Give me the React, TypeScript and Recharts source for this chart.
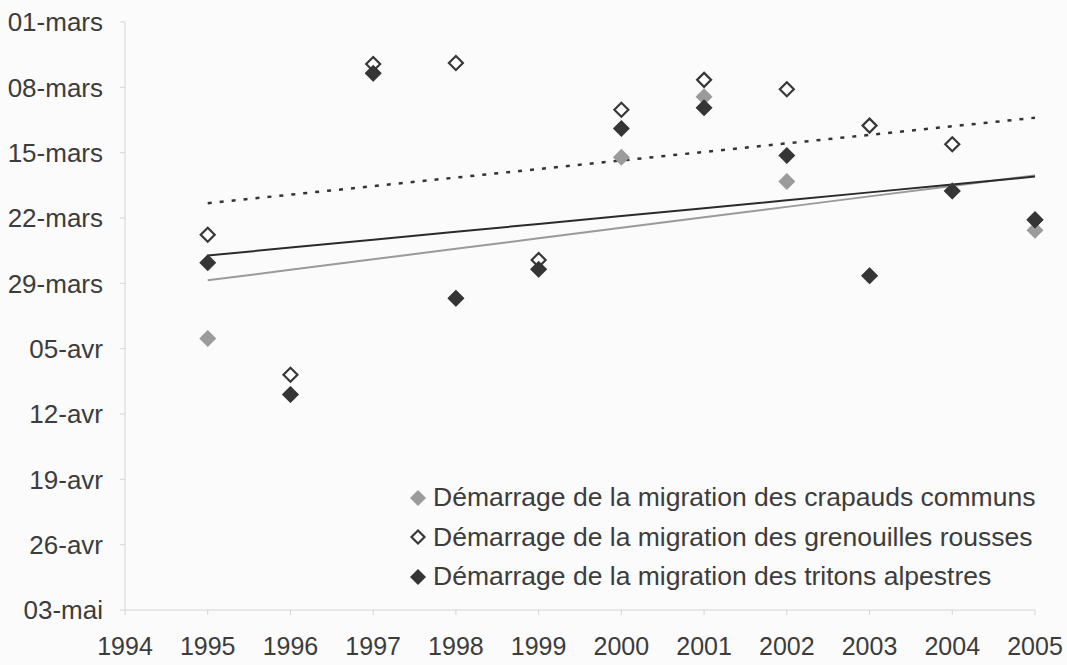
import React from "react";
import { ComposedChart, Scatter, Line, XAxis, YAxis, Legend } from "recharts";

// jours comptés depuis le 01-mars
const years = [1995, 1996, 1997, 1998, 1999, 2000, 2001, 2002, 2003, 2004, 2005];
const crapauds = [33.9, 39.9, 5.5, 29.6, 26.5, 14.5, 8.0, 17.1, 27.2, 18.1, 22.3];
const grenouilles = [22.8, 37.8, 4.5, 4.4, 25.5, 9.4, 6.2, 7.2, 11.1, 13.1, 21.2];
const tritons = [25.8, 39.9, 5.5, 29.6, 26.5, 11.4, 9.2, 14.3, 27.2, 18.1, 21.2];

const xTicks = [1994, 1995, 1996, 1997, 1998, 1999, 2000, 2001, 2002, 2003, 2004, 2005];
const yTicks = [0, 7, 14, 21, 28, 35, 42, 49, 56, 63];
const yTickLabels = ["01-mars", "08-mars", "15-mars", "22-mars", "29-mars", "05-avr", "12-avr", "19-avr", "26-avr", "03-mai"];

const seriesNames = [
  "Démarrage de la migration des crapauds communs",
  "Démarrage de la migration des grenouilles rousses",
  "Démarrage de la migration des tritons alpestres",
];

// droite de tendance (moindres carrés), comme dans Excel
function trend(ys: number[]) {
  const n = years.length;
  const mx = years.reduce((a, b) => a + b, 0) / n;
  const my = ys.reduce((a, b) => a + b, 0) / n;
  let sxy = 0;
  let sxx = 0;
  years.forEach((x, i) => {
    sxy += (x - mx) * (ys[i] - my);
    sxx += (x - mx) * (x - mx);
  });
  const b = sxy / sxx;
  const a = my - b * mx;
  return years.map((x) => a + b * x);
}

const tCrap = trend(crapauds);
const tGren = trend(grenouilles);
const tTrit = trend(tritons);

const data = years.map((year, i) => ({
  year,
  crapauds: crapauds[i],
  grenouilles: grenouilles[i],
  tritons: tritons[i],
  tCrap: tCrap[i],
  tGren: tGren[i],
  tTrit: tTrit[i],
}));

const diamond = (fill: string, stroke: string, r: number, sw: number) => (props: any) => {
  const { cx, cy } = props;
  if (cx == null || cy == null) return <g />;
  return (
    <polygon
      points={`${cx},${cy - r} ${cx + r},${cy} ${cx},${cy + r} ${cx - r},${cy}`}
      fill={fill}
      stroke={stroke}
      strokeWidth={sw}
    />
  );
};

const markers = [
  { fill: "#9b9b9b", stroke: "none", r: 8.5, sw: 0 },
  { fill: "#ffffff", stroke: "#383838", r: 7, sw: 2.2 },
  { fill: "#353535", stroke: "none", r: 8.5, sw: 0 },
];

function LegendBox() {
  return (
    <div style={{ fontSize: 26.5, color: "#3c3c3c", lineHeight: "39.5px" }}>
      {seriesNames.map((name, i) => {
        const m = markers[i];
        return (
          <div key={name} style={{ display: "flex", alignItems: "center", whiteSpace: "nowrap" }}>
            <svg width={26} height={20}>
              <polygon
                points={`11,${10 - m.r + 0.5} ${11 + m.r - 0.5},10 11,${10 + m.r - 0.5} ${11 - m.r + 0.5},10`}
                fill={m.fill}
                stroke={m.stroke}
                strokeWidth={m.sw}
              />
            </svg>
            <span>{name}</span>
          </div>
        );
      })}
    </div>
  );
}

export default function App() {
  const axisStroke = "#d4d4d4";
  return (
    <div
      style={{
        position: "absolute",
        left: 0,
        top: 0,
        width: 1067,
        height: 665,
        background: "#fbfbfb",
        fontFamily: '"Liberation Sans", Arial, sans-serif',
      }}
    >
      <ComposedChart
        width={1067}
        height={665}
        data={data}
        margin={{ top: 22, right: 32, left: 0, bottom: 15 }}
      >
        <XAxis
          dataKey="year"
          type="number"
          domain={[1994, 2005]}
          ticks={xTicks}
          interval={0}
          height={40}
          axisLine={{ stroke: axisStroke }}
          tickLine={{ stroke: axisStroke }}
          tickSize={5}
          tickMargin={22}
          tick={{ fill: "#3c3c3c", fontSize: 25 }}
        />
        <YAxis
          type="number"
          domain={[0, 63]}
          reversed
          ticks={yTicks}
          interval={0}
          width={125}
          axisLine={{ stroke: axisStroke }}
          tickLine={{ stroke: axisStroke }}
          tickSize={5}
          tickMargin={17}
          tickFormatter={(v: number) => yTickLabels[Math.round(v / 7)]}
          tick={{ fill: "#3c3c3c", fontSize: 26 }}
        />
        <Scatter
          name={seriesNames[0]}
          dataKey="crapauds"
          isAnimationActive={false}
          shape={diamond(markers[0].fill, markers[0].stroke, markers[0].r, markers[0].sw)}
        />
        <Scatter
          name={seriesNames[1]}
          dataKey="grenouilles"
          isAnimationActive={false}
          shape={diamond(markers[1].fill, markers[1].stroke, markers[1].r, markers[1].sw)}
        />
        <Scatter
          name={seriesNames[2]}
          dataKey="tritons"
          isAnimationActive={false}
          shape={diamond(markers[2].fill, markers[2].stroke, markers[2].r, markers[2].sw)}
        />
        <Line
          type="linear"
          dataKey="tCrap"
          stroke="#9a9a9a"
          strokeWidth={2}
          dot={false}
          activeDot={false}
          legendType="none"
          isAnimationActive={false}
        />
        <Line
          type="linear"
          dataKey="tTrit"
          stroke="#2b2b2b"
          strokeWidth={2}
          dot={false}
          activeDot={false}
          legendType="none"
          isAnimationActive={false}
        />
        <Line
          type="linear"
          dataKey="tGren"
          stroke="#333333"
          strokeWidth={2.5}
          strokeDasharray="4 8"
          dot={false}
          activeDot={false}
          legendType="none"
          isAnimationActive={false}
        />
        <Legend
          layout="vertical"
          align="center"
          verticalAlign="middle"
          content={() => <LegendBox />}
          wrapperStyle={{ position: "absolute", left: 407, top: 478, width: "auto", height: "auto" }}
        />
      </ComposedChart>
    </div>
  );
}
